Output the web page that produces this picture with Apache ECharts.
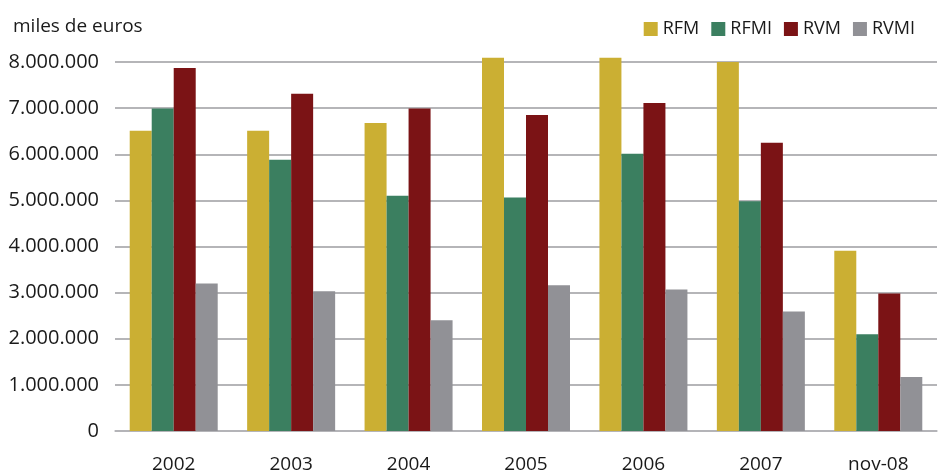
<!DOCTYPE html>
<html>
<head>
<meta charset="utf-8">
<script src="https://cdn.jsdelivr.net/npm/echarts@6/dist/echarts.min.js"></script>
<style>
  html, body { margin: 0; padding: 0; background: #fff; }
  #chart { width: 938px; height: 474px; }
</style>
</head>
<body>
<div id="chart"></div>
<script>
// Periods on the category axis
const categories = ['2002', '2003', '2004', '2005', '2006', '2007', 'nov-08'];

// Amounts in thousands of euros, one array per series
const rfm  = [6510000, 6510000, 6680000, 8090000, 8090000, 8000000, 3910000];
const rfmi = [6990000, 5880000, 5100000, 5060000, 6010000, 4980000, 2100000];
const rvm  = [7870000, 7310000, 6990000, 6850000, 7110000, 6250000, 2980000];
const rvmi = [3200000, 3030000, 2400000, 3160000, 3070000, 2590000, 1170000];

const seriesNames = ['RFM', 'RFMI', 'RVM', 'RVMI'];
const seriesData = [rfm, rfmi, rvm, rvmi];
const seriesColors = ['#CBAF33', '#3B7F60', '#7B1315', '#919196'];

const FONT = '"Open Sans", "DejaVu Sans", sans-serif';

// Thousands separator with dots (e.g. 8.000.000)
function fmt(v) {
  return String(Math.round(v)).replace(/\B(?=(\d{3})+(?!\d))/g, '.');
}

const chart = echarts.init(document.getElementById('chart'), null, { renderer: 'canvas' });

chart.setOption({
  animation: false,
  backgroundColor: '#ffffff',
  textStyle: { fontFamily: FONT },
  title: {
    text: 'miles de euros',
    left: 8,
    top: 12,
    textStyle: { fontFamily: FONT, fontSize: 19, fontWeight: 'normal', color: '#1a1a1a' }
  },
  legend: {
    data: seriesNames,
    right: 18,
    top: 15,
    itemWidth: 14,
    itemHeight: 14,
    itemGap: 12,
    icon: 'rect',
    textStyle: { fontFamily: FONT, fontSize: 18, color: '#1a1a1a' }
  },
  grid: { left: 115, right: 1, top: 62, bottom: 42, containLabel: false },
  xAxis: {
    type: 'category',
    data: categories,
    axisTick: { show: false },
    axisLine: { show: true, lineStyle: { color: '#b4b4b8', width: 1.5 } },
    axisLabel: { fontFamily: FONT, fontSize: 19, color: '#1a1a1a', margin: 24 }
  },
  yAxis: {
    type: 'value',
    min: 0,
    max: 8000000,
    interval: 1000000,
    axisLine: { show: false },
    axisTick: { show: false },
    splitLine: { lineStyle: { color: '#9c9ca0', width: 1.5 } },
    axisLabel: { fontFamily: FONT, fontSize: 20, color: '#1a1a1a', margin: 16, formatter: fmt }
  },
  series: seriesNames.map((name, i) => ({
    name: name,
    type: 'bar',
    data: seriesData[i],
    barWidth: 22,
    barGap: '0%',
    clip: false,
    itemStyle: { color: seriesColors[i] }
  }))
});
</script>
</body>
</html>
